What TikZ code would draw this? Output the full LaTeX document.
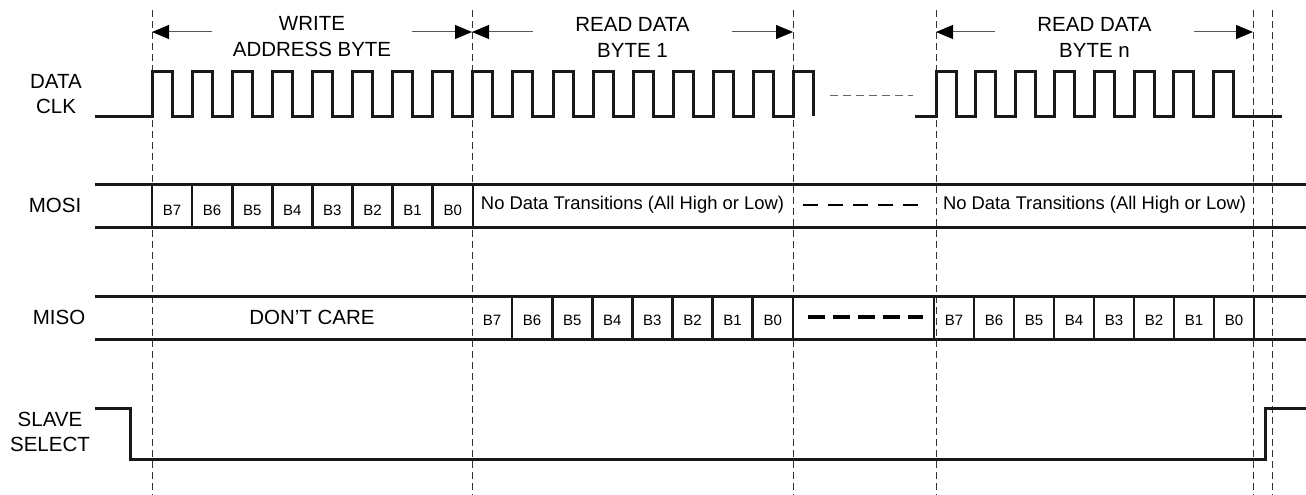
\documentclass[tikz,border=0pt]{standalone}
\usepackage{fontspec}
\setmainfont{Liberation Sans}
\usetikzlibrary{arrows.meta,calc}
\tikzset{
  signal/.style={
    % The line:
    line width=3pt,
    draw=black!90,
    % The corners:
    line join=miter},
  cellbar/.style={
    % The line:
    line width=2.6pt,
    draw=black!90},
  marker/.style={
    % The line:
    line width=0.9pt,
    draw=black!80,
    dash pattern=on 7pt off 4pt},
  span/.style={
    % The text:
    align=center,
    font=\fontsize{20.5}{26}\selectfont,
    % The size:
    minimum width=199pt,
    inner sep=0pt},
  signame/.style={
    align=center,
    font=\fontsize{20.5}{24.5}\selectfont},
  bit/.style={
    inner sep=0pt,
    font=\fontsize{15}{18}\selectfont},
  note/.style={
    inner sep=0pt,
    font=\fontsize{18.4}{22}\selectfont}
}

\begin{document}
\begin{tikzpicture}[x=1pt,y=-1pt,>={Triangle[length=17pt,width=14pt,color=black]},
                    span arrow/.style={->,line width=1pt,draw=black!65},
                    clk gap/.style={line width=1pt,draw=black!60,dash pattern=on 8pt off 5pt},
                    mosi gap/.style={line width=1.8pt,dash pattern=on 15pt off 10pt},
                    miso gap/.style={line width=3.2pt,dash pattern=on 17pt off 8pt}]
  \useasboundingbox (0,0) rectangle (1306,495);

  % Byte markers:
  \foreach \x/\n in {152/m0,472/m1,793/m2,936/m3,1253/m4,1272/m5}{
    \coordinate (\n) at (\x,32);
    \draw[marker] (\x,10) -- (\x,495);
  }

  % Byte spans:
  \node[span] (wab) at ($(m0)!0.5!(m1)+(0,5)$) {WRITE\\ADDRESS BYTE};
  \node[span] (rd1) at ($(m1)!0.5!(m2)+(0,5)$) {READ DATA\\BYTE 1};
  \node[span] (rdn) at ($(m3)!0.5!(m4)+(0,5)$) {READ DATA\\BYTE n};
  \draw[span arrow] (wab.west |- m0) -- (m0);
  \draw[span arrow] (wab.east |- m0) -- (m1);
  \draw[span arrow] (rd1.west |- m1) -- (m1);
  \draw[span arrow] (rd1.east |- m1) -- (m2);
  \draw[span arrow] (rdn.west |- m3) -- (m3);
  \draw[span arrow] (rdn.east |- m3) -- (m4);

  % Signal names:
  \node[signame] (clk)  at (56,94)  {DATA\\CLK};
  \node[signame] (mosi) at (55,205) {MOSI};
  \node[signame] (miso) at (59,317) {MISO};
  \node[signame] (ss)   at (50,432) {SLAVE\\SELECT};

  % Clock:
  \draw[signal] (95,116) -- (152,116)
    \foreach \i in {1,...,16}{ -- ++(0,-44) -- ++(20,0) -- ++(0,44) -- ++(20.1,0) }
    -- ++(0,-44) -- ++(20,0) -- ++(0,44);
  \draw[clk gap] (830,95) -- (913,95);
  \draw[signal] (915,116) -- (936,116)
    \foreach \i in {1,...,8}{ -- ++(0,-44) -- ++(20,0) -- ++(0,44) -- ++(19.6,0) }
    -- (1282,116);

  % MOSI:
  \draw[signal] (95,184) -- (1306,184) (95,227) -- (1306,227);
  \foreach \i in {0,...,8}
    \draw[cellbar] (152+40.1*\i,184) -- (152+40.1*\i,227);
  \foreach \b [count=\i from 0] in {7,6,5,4,3,2,1,0}
    \node[bit] (mosi b\b) at (172+40.1*\i,210) {B\b};
  \node[note] (mosi nd1) at (632.5,205) {No Data Transitions (All High or Low)};
  \draw[mosi gap] (803,205) -- (920,205);
  \node[note] (mosi nd2) at (1094.5,205) {No Data Transitions (All High or Low)};

  % MISO:
  \draw[signal] (95,296) -- (1306,296) (95,339) -- (1306,339);
  \node[signame] (dc) at (312,317) {DON’T CARE};
  \foreach \i in {1,...,8}
    \draw[cellbar] (472+40.1*\i,296) -- (472+40.1*\i,339);
  \foreach \b [count=\i from 0] in {7,6,5,4,3,2,1,0}
    \node[bit] (miso a\b) at (492+40.1*\i,320) {B\b};
  \draw[miso gap] (808,317) -- (923,317);
  \foreach \i in {0,...,8}
    \draw[cellbar] (934+40*\i,296) -- (934+40*\i,339);
  \foreach \b [count=\i from 0] in {7,6,5,4,3,2,1,0}
    \node[bit] (miso n\b) at (954+40*\i,320) {B\b};

  % Slave select:
  \draw[signal] (95,408) -- (130,408) -- (130,459) -- (1265,459) -- (1265,408) -- (1306,408);
\end{tikzpicture}
\end{document}
